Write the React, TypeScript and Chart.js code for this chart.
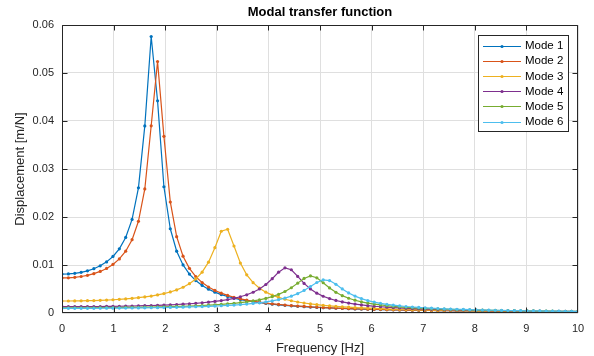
import React, { useEffect, useRef } from 'react';
import { Chart, registerables } from 'chart.js';

Chart.register(...registerables);

// Frequency samples [Hz]
const FREQ = [
  0, 0.1235, 0.2469, 0.3704, 0.4938, 0.6173, 0.7407, 0.8642, 0.9877, 1.1111,
  1.2346, 1.358, 1.4815, 1.6049, 1.7284, 1.8519, 1.9753, 2.0988, 2.2222, 2.3457,
  2.4691, 2.5926, 2.716, 2.8395, 2.963, 3.0864, 3.2099, 3.3333, 3.4568, 3.5802,
  3.7037, 3.8272, 3.9506, 4.0741, 4.1975, 4.321, 4.4444, 4.5679, 4.6914, 4.8148,
  4.9383, 5.0617, 5.1852, 5.3086, 5.4321, 5.5556, 5.679, 5.8025, 5.9259, 6.0494,
  6.1728, 6.2963, 6.4198, 6.5432, 6.6667, 6.7901, 6.9136, 7.037, 7.1605, 7.284,
  7.4074, 7.5309, 7.6543, 7.7778, 7.9012, 8.0247, 8.1481, 8.2716, 8.3951, 8.5185,
  8.642, 8.7654, 8.8889, 9.0123, 9.1358, 9.2593, 9.3827, 9.5062, 9.6296, 9.7531,
  9.8765, 10,
];

const MODE_1 = [
  0.0081, 0.00814, 0.00826, 0.00847, 0.00879, 0.00923, 0.00983, 0.01065, 0.01178, 0.01337,
  0.01574, 0.01949, 0.02607, 0.03898, 0.0576, 0.0442, 0.0263, 0.01755, 0.01288, 0.01002,
  0.00811, 0.00675, 0.00574, 0.00496, 0.00434, 0.00384, 0.00343, 0.00309, 0.0028, 0.00255,
  0.00234, 0.00215, 0.00199, 0.00184, 0.00171, 0.0016, 0.00149, 0.0014, 0.00132, 0.00124,
  0.00117, 0.00111, 0.00105, 0.000993, 0.000943, 0.000897, 0.000854, 0.000815, 0.000778, 0.000744,
  0.000712, 0.000682, 0.000654, 0.000628, 0.000603, 0.00058, 0.000558, 0.000537, 0.000518, 0.000499,
  0.000482, 0.000465, 0.000449, 0.000435, 0.00042, 0.000407, 0.000394, 0.000382, 0.00037, 0.000359,
  0.000348, 0.000338, 0.000329, 0.000319, 0.00031, 0.000302, 0.000294, 0.000286, 0.000278, 0.000271,
  0.000264, 0.000257,
];

const MODE_2 = [
  0.0073, 0.00733, 0.00743, 0.0076, 0.00785, 0.00819, 0.00866, 0.00928, 0.01011, 0.01126,
  0.01287, 0.01527, 0.0191, 0.02584, 0.039, 0.0524, 0.0368, 0.02313, 0.0159, 0.01184,
  0.0093, 0.00758, 0.00634, 0.00542, 0.0047, 0.00413, 0.00366, 0.00328, 0.00296, 0.00269,
  0.00245, 0.00225, 0.00207, 0.00192, 0.00178, 0.00166, 0.00155, 0.00145, 0.00136, 0.00128,
  0.0012, 0.00114, 0.00108, 0.00102, 0.000968, 0.00092, 0.000876, 0.000835, 0.000797, 0.000761,
  0.000728, 0.000698, 0.000669, 0.000642, 0.000616, 0.000592, 0.00057, 0.000548, 0.000528, 0.000509,
  0.000491, 0.000474, 0.000458, 0.000443, 0.000428, 0.000414, 0.000401, 0.000389, 0.000377, 0.000365,
  0.000355, 0.000344, 0.000334, 0.000325, 0.000316, 0.000307, 0.000299, 0.000291, 0.000283, 0.000276,
  0.000268, 0.000262,
];

const MODE_3 = [
  0.0025, 0.002504, 0.002515, 0.002534, 0.002561, 0.002597, 0.002642, 0.002698, 0.002765, 0.002844,
  0.002939, 0.003052, 0.003185, 0.003343, 0.003532, 0.00376, 0.004038, 0.004382, 0.004813, 0.005367,
  0.006099, 0.007097, 0.008512, 0.01059, 0.01361, 0.01703, 0.01745, 0.01396, 0.01041, 0.007957,
  0.006312, 0.005171, 0.004345, 0.003725, 0.003245, 0.002863, 0.002553, 0.002296, 0.002081, 0.001898,
  0.001741, 0.001605, 0.001486, 0.00138, 0.001287, 0.001204, 0.001129, 0.001062, 0.001001, 0.000946,
  0.000895, 0.000849, 0.000806, 0.000767, 0.000731, 0.000697, 0.000666, 0.000637, 0.00061, 0.000585,
  0.000561, 0.000539, 0.000518, 0.000499, 0.00048, 0.000463, 0.000447, 0.000431, 0.000416, 0.000403,
  0.000389, 0.000377, 0.000365, 0.000354, 0.000343, 0.000333, 0.000323, 0.000313, 0.000305, 0.000296,
  0.000288, 0.00028,
];

const MODE_4 = [
  0.00132, 0.001321, 0.001324, 0.00133, 0.001337, 0.001347, 0.001359, 0.001373, 0.00139, 0.00141,
  0.001433, 0.001459, 0.001489, 0.001523, 0.001561, 0.001605, 0.001654, 0.001709, 0.001772, 0.001844,
  0.001926, 0.002021, 0.00213, 0.002257, 0.002406, 0.002584, 0.002798, 0.003059, 0.003382, 0.003791,
  0.004319, 0.005014, 0.00594, 0.007144, 0.00851, 0.009414, 0.00901, 0.00762, 0.006163, 0.005003,
  0.004137, 0.00349, 0.002997, 0.002612, 0.002306, 0.002058, 0.001853, 0.001681, 0.001534, 0.001409,
  0.001301, 0.001206, 0.001122, 0.001048, 0.000982, 0.000922, 0.000869, 0.00082, 0.000776, 0.000736,
  0.000699, 0.000665, 0.000634, 0.000605, 0.000578, 0.000553, 0.00053, 0.000508, 0.000488, 0.000469,
  0.000451, 0.000435, 0.000419, 0.000404, 0.00039, 0.000377, 0.000364, 0.000352, 0.000341, 0.000331,
  0.00032, 0.000311,
];

const MODE_5 = [
  0.00108, 0.001081, 0.001083, 0.001086, 0.001091, 0.001098, 0.001106, 0.001115, 0.001126, 0.001139,
  0.001154, 0.001171, 0.00119, 0.001211, 0.001235, 0.001262, 0.001292, 0.001325, 0.001363, 0.001404,
  0.001451, 0.001504, 0.001563, 0.001631, 0.001707, 0.001795, 0.001896, 0.002014, 0.002151, 0.002315,
  0.00251, 0.002747, 0.00304, 0.003408, 0.003876, 0.004482, 0.005263, 0.006222, 0.007205, 0.007729,
  0.007335, 0.006306, 0.005216, 0.004311, 0.003612, 0.003077, 0.002662, 0.002334, 0.00207, 0.001854,
  0.001674, 0.001523, 0.001394, 0.001283, 0.001187, 0.001102, 0.001027, 0.000961, 0.000902, 0.000848,
  0.0008, 0.000756, 0.000717, 0.00068, 0.000647, 0.000616, 0.000588, 0.000561, 0.000537, 0.000514,
  0.000493, 0.000474, 0.000455, 0.000438, 0.000422, 0.000406, 0.000392, 0.000378, 0.000365, 0.000353,
  0.000342, 0.000331,
];

const MODE_6 = [
  0.00097, 0.000971, 0.000972, 0.000975, 0.000979, 0.000984, 0.00099, 0.000998, 0.001007, 0.001017,
  0.001029, 0.001042, 0.001057, 0.001074, 0.001093, 0.001114, 0.001137, 0.001163, 0.001191, 0.001223,
  0.001258, 0.001298, 0.001342, 0.001391, 0.001446, 0.001509, 0.00158, 0.001661, 0.001754, 0.001861,
  0.001987, 0.002134, 0.00231, 0.002523, 0.002783, 0.003106, 0.003514, 0.004034, 0.004696, 0.005504,
  0.006353, 0.00691, 0.00675, 0.005974, 0.005024, 0.004185, 0.003518, 0.002999, 0.002594, 0.002273,
  0.002015, 0.001804, 0.001629, 0.001481, 0.001355, 0.001247, 0.001153, 0.001071, 0.000998, 0.000933,
  0.000876, 0.000824, 0.000777, 0.000735, 0.000696, 0.000661, 0.000628, 0.000598, 0.000571, 0.000545,
  0.000522, 0.0005, 0.000479, 0.00046, 0.000442, 0.000426, 0.00041, 0.000395, 0.000381, 0.000368,
  0.000356, 0.000344,
];

const SERIES = [MODE_1, MODE_2, MODE_3, MODE_4, MODE_5, MODE_6];
const SERIES_LABELS = ['Mode 1', 'Mode 2', 'Mode 3', 'Mode 4', 'Mode 5', 'Mode 6'];
const SERIES_COLORS = ['#0072BD', '#D95319', '#EDB120', '#7E2F8E', '#77AC30', '#4DBEEE'];

const X_TICKS = [0, 1, 2, 3, 4, 5, 6, 7, 8, 9, 10];
const X_TICK_LABELS = ['0', '1', '2', '3', '4', '5', '6', '7', '8', '9', '10'];
const Y_TICKS = [0, 0.01, 0.02, 0.03, 0.04, 0.05, 0.06];
const Y_TICK_LABELS = ['0', '0.01', '0.02', '0.03', '0.04', '0.05', '0.06'];

const TITLE = 'Modal transfer function';
const X_TITLE = 'Frequency [Hz]';
const Y_TITLE = 'Displacement [m/N]';

const FONT = "'Liberation Sans', Arial, Helvetica, sans-serif";
const AXIS_COLOR = '#262626';
const GRID_COLOR = '#DFDFDF';

const decorPlugin = {
  id: 'decor',
  afterDatasetsDraw(chart: any) {
    const { ctx, chartArea: a, scales } = chart;
    const L = Math.round(a.left) + 0.5;
    const R = Math.round(a.right) - 0.5;
    const T = Math.round(a.top) + 0.5;
    const B = Math.round(a.bottom) - 0.5;
    ctx.save();
    ctx.strokeStyle = AXIS_COLOR;
    ctx.lineWidth = 1;
    ctx.beginPath();
    ctx.rect(L, T, R - L, B - T);
    const tl = 5;
    X_TICKS.forEach((v) => {
      const px = Math.round(scales.x.getPixelForValue(v)) + 0.5;
      const x = Math.min(Math.max(px, L), R);
      ctx.moveTo(x, B);
      ctx.lineTo(x, B - tl);
      ctx.moveTo(x, T);
      ctx.lineTo(x, T + tl);
    });
    Y_TICKS.forEach((v) => {
      const py = Math.round(scales.y.getPixelForValue(v)) + 0.5;
      const y = Math.min(Math.max(py, T), B);
      ctx.moveTo(L, y);
      ctx.lineTo(L + tl, y);
      ctx.moveTo(R, y);
      ctx.lineTo(R - tl, y);
    });
    ctx.stroke();
    ctx.restore();
  },
  afterDraw(chart: any) {
    const { ctx, chartArea: a } = chart;
    ctx.save();
    // Title
    ctx.fillStyle = '#000';
    ctx.font = `bold 13px ${FONT}`;
    ctx.textAlign = 'center';
    ctx.textBaseline = 'middle';
    ctx.fillText(TITLE, (a.left + a.right) / 2, 12);

    // Legend
    const bx = 478.5, by = 35.5, bw = 90, bh = 96;
    ctx.fillStyle = '#fff';
    ctx.fillRect(bx, by, bw, bh);
    ctx.strokeStyle = AXIS_COLOR;
    ctx.lineWidth = 1;
    ctx.strokeRect(bx, by, bw, bh);
    ctx.font = `11.5px ${FONT}`;
    ctx.textAlign = 'left';
    ctx.textBaseline = 'middle';
    SERIES_LABELS.forEach((label, i) => {
      const y = 45.5 + i * 15.2;
      const yy = Math.round(y) + 0.5;
      ctx.strokeStyle = SERIES_COLORS[i];
      ctx.lineWidth = 1.2;
      ctx.beginPath();
      ctx.moveTo(483, yy);
      ctx.lineTo(521, yy);
      ctx.stroke();
      ctx.fillStyle = SERIES_COLORS[i];
      ctx.beginPath();
      ctx.arc(502, yy, 1.6, 0, Math.PI * 2);
      ctx.fill();
      ctx.fillStyle = '#000';
      ctx.fillText(label, 525, y + 0.5);
    });
    ctx.restore();
  },
};

export default function App() {
  const ref = useRef<HTMLCanvasElement | null>(null);

  useEffect(() => {
    if (!ref.current) return;
    const datasets = SERIES.map((arr, i) => ({
      label: SERIES_LABELS[i],
      data: FREQ.map((f, j) => ({ x: f, y: arr[j] })),
      borderColor: SERIES_COLORS[i],
      backgroundColor: SERIES_COLORS[i],
      borderWidth: 1.2,
      pointRadius: 1.6,
      pointBorderWidth: 0,
      pointStyle: 'circle',
      tension: 0,
      order: SERIES.length - i,
    }));

    const chart = new Chart(ref.current, {
      type: 'line',
      data: { datasets },
      options: {
        animation: false,
        responsive: false,
        maintainAspectRatio: false,
        devicePixelRatio: 1,
        layout: { padding: { top: 25, right: 16, left: 0, bottom: 0 } },
        plugins: {
          legend: { display: false },
          title: { display: false },
          tooltip: { enabled: false },
        },
        scales: {
          x: {
            type: 'linear',
            min: 0,
            max: 10,
            afterBuildTicks: (s: any) => {
              s.ticks = X_TICKS.map((v) => ({ value: v }));
            },
            afterFit: (s: any) => {
              s.height = 43;
            },
            ticks: {
              autoSkip: false,
              maxRotation: 0,
              color: AXIS_COLOR,
              padding: 9,
              font: { family: FONT, size: 11 },
              callback: (_v: any, i: number) => X_TICK_LABELS[i],
            },
            grid: { color: GRID_COLOR, drawTicks: false, lineWidth: 1 },
            border: { display: false },
            title: {
              display: true,
              text: X_TITLE,
              color: AXIS_COLOR,
              font: { family: FONT, size: 13 },
              padding: { top: 0, bottom: 0 },
            },
          },
          y: {
            type: 'linear',
            min: 0,
            max: 0.06,
            afterBuildTicks: (s: any) => {
              s.ticks = Y_TICKS.map((v) => ({ value: v }));
            },
            afterFit: (s: any) => {
              s.width = 62;
            },
            ticks: {
              autoSkip: false,
              color: AXIS_COLOR,
              padding: 8,
              font: { family: FONT, size: 11 },
              callback: (_v: any, i: number) => Y_TICK_LABELS[i],
            },
            grid: { color: GRID_COLOR, drawTicks: false, lineWidth: 1 },
            border: { display: false },
            title: {
              display: true,
              text: Y_TITLE,
              color: AXIS_COLOR,
              font: { family: FONT, size: 13 },
              padding: { top: 13, bottom: 0 },
            },
          },
        },
      },
      plugins: [decorPlugin],
    } as any);

    return () => chart.destroy();
  }, []);

  return (
    <div style={{ position: 'fixed', left: 0, top: 0, width: 594, height: 356, background: '#fff' }}>
      <canvas ref={ref} width={594} height={356} style={{ display: 'block', width: 594, height: 356 }} />
    </div>
  );
}
